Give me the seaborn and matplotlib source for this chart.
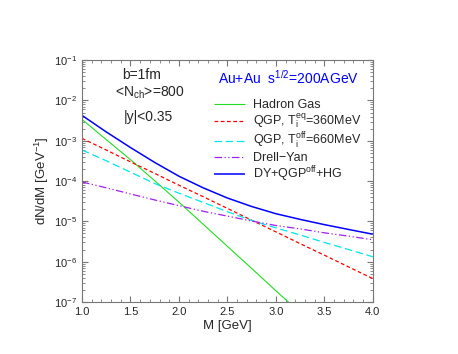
import numpy as np
import pandas as pd
import matplotlib
matplotlib.use('Agg')
import matplotlib.pyplot as plt
from matplotlib.ticker import MultipleLocator, LogLocator, NullFormatter
import seaborn as sns

# Dilepton mass spectra
M = [1.0, 1.25, 1.5, 1.75, 2.0, 2.25, 2.5, 2.75, 3.0, 3.25, 3.5, 3.75, 4.0]
hadron_gas = [3.4e-3, 1.07e-3, 3.4e-4, 1.02e-4, 3.0e-5, 8.5e-6, 2.4e-6, 6.8e-7,
              1.9e-7, 5.4e-8, 1.5e-8, 4.3e-9, 1.2e-9]
qgp_eq = [1.15e-3, 5.9e-4, 3.0e-4, 1.55e-4, 7.9e-5, 4.1e-5, 2.1e-5, 1.07e-5,
          5.5e-6, 2.8e-6, 1.45e-6, 7.4e-7, 3.8e-7]
qgp_off = [5.9e-4, 3.2e-4, 1.66e-4, 8.7e-5, 5.0e-5, 2.95e-5, 1.74e-5, 1.05e-5,
           6.9e-6, 4.6e-6, 3.0e-6, 2.0e-6, 1.32e-6]
drell_yan = [9.5e-5, 6.8e-5, 4.8e-5, 3.4e-5, 2.45e-5, 1.78e-5, 1.35e-5, 1.02e-5,
             7.9e-6, 6.5e-6, 5.2e-6, 4.3e-6, 3.5e-6]
total = [4.27e-3, 1.66e-3, 6.8e-4, 2.9e-4, 1.32e-4, 6.8e-5, 3.8e-5, 2.34e-5,
         1.55e-5, 1.12e-5, 8.3e-6, 6.3e-6, 4.8e-6]

labels = ['Hadron Gas',
          r'QGP, T$_\mathrm{i}^\mathrm{eq}$=360MeV',
          r'QGP, T$_\mathrm{i}^\mathrm{off}$=660MeV',
          'Drell\u2212Yan',
          r'DY+QGP$^\mathrm{off}$+HG']

sns.set_style('ticks')
plt.rcParams['font.family'] = ['Liberation Sans', 'DejaVu Sans']
plt.rcParams['mathtext.fontset'] = 'custom'
plt.rcParams['mathtext.rm'] = 'Liberation Sans'
plt.rcParams['mathtext.it'] = 'Liberation Sans:italic'

fig = plt.figure(figsize=(4.58, 3.54), dpi=100)
ax = fig.add_axes([0.179, 0.147, 0.635, 0.683])

series = [hadron_gas, qgp_eq, qgp_off, drell_yan, total]
colors = ['#22dd22', '#ff0000', '#00e5ee', '#a020f0', '#0000ff']
styles = [(0, ()), (0, (3, 2)), (0, (6, 3)), (0, (6, 2, 1, 2, 1, 2)), (0, ())]
widths = [0.8, 0.9, 0.9, 0.9, 1.1]

for vals, lab, c, ls, lw in zip(series, labels, colors, styles, widths):
    df = pd.DataFrame({'M': M, 'y': vals})
    sns.lineplot(data=df, x='M', y='y', ax=ax, color=c, linestyle=ls,
                 linewidth=lw, label=lab)

ax.set_yscale('log')
ax.set_xlim(1.0, 4.0)
ax.set_ylim(1e-7, 1e-1)
ax.xaxis.set_major_locator(MultipleLocator(0.5))
ax.xaxis.set_minor_locator(MultipleLocator(0.1))
ax.yaxis.set_major_locator(LogLocator(base=10, numticks=10))
ax.yaxis.set_minor_locator(LogLocator(base=10, subs=np.arange(2, 10), numticks=10))
ax.yaxis.set_minor_formatter(NullFormatter())
ax.tick_params(which='both', direction='in', top=True, right=True,
               color='#777777', labelsize=8)
ax.tick_params(which='major', length=4)
ax.tick_params(which='minor', length=2)
for sp in ax.spines.values():
    sp.set_color('#777777')
    sp.set_linewidth(0.8)

ax.set_xlabel('M [GeV]', fontsize=9.5, labelpad=2)
ax.set_ylabel(r'dN/dM [GeV$^{-1}$]', fontsize=9.5, labelpad=2)

fig.text(142 / 458, 1 - 75 / 354, 'b=1fm', fontsize=10, ha='center', va='center')
fig.text(150 / 458, 1 - 93 / 354, r'<N$_\mathrm{ch}$>=800', fontsize=10,
         ha='center', va='center')
fig.text(148 / 458, 1 - 117 / 354, '|y|<0.35', fontsize=10,
         ha='center', va='center')
fig.text(288 / 458, 1 - 78 / 354, r'Au+Au  s$^{1/2}$=200AGeV', fontsize=10,
         color='#0000ff', ha='center', va='center')

leg = ax.legend(loc='upper left', bbox_to_anchor=(214 / 458, 1 - 99 / 354),
                bbox_transform=fig.transFigure, frameon=False, fontsize=9,
                handlelength=2.5, handletextpad=0.6, labelspacing=0.05,
                borderpad=0, borderaxespad=0)

fig.savefig('out.png', dpi=100)
